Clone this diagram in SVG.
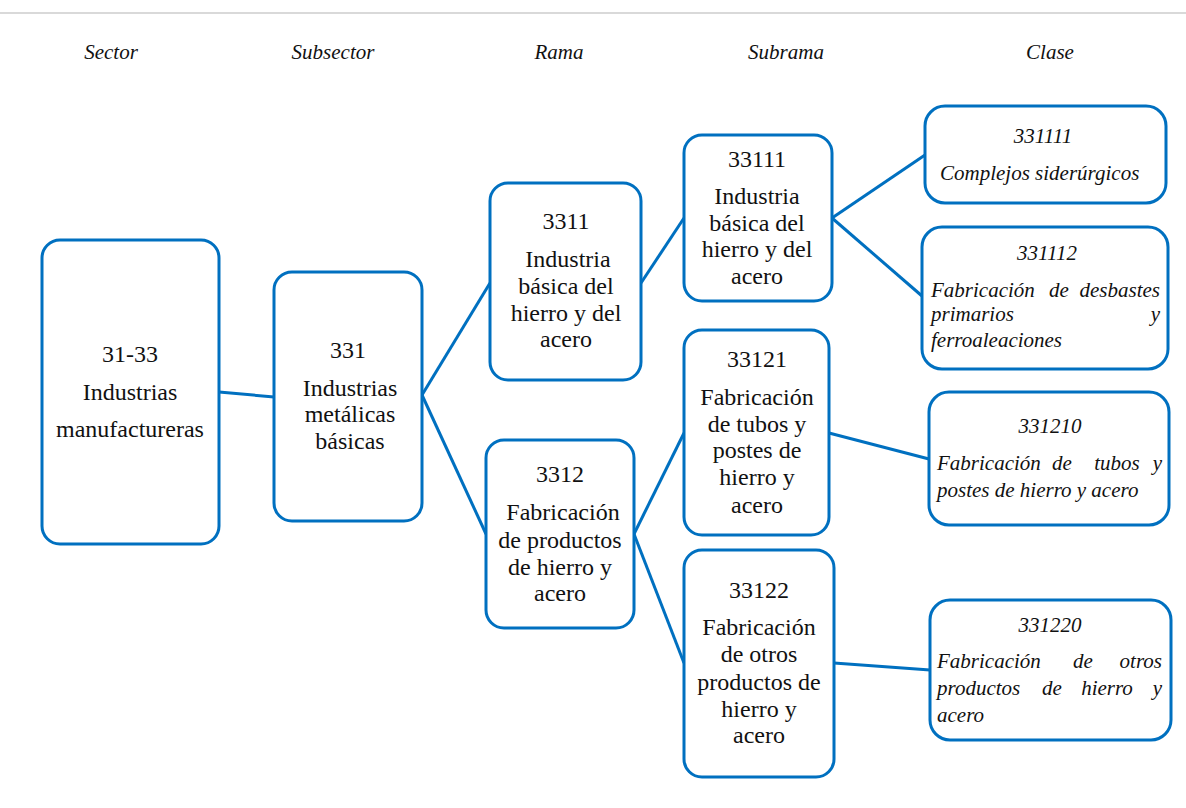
<svg xmlns="http://www.w3.org/2000/svg" width="1186" height="808" viewBox="0 0 1186 808">
<style>
.box{fill:#fff;stroke:#0070c0;stroke-width:3}
.ln{stroke:#0070c0;stroke-width:3;fill:none}
text{font-family:'Liberation Serif','DejaVu Serif',serif;fill:#111}
.t{font-size:24px;text-anchor:middle}
.h{font-size:21px;font-style:italic;text-anchor:middle}
.i{font-size:21px;font-style:italic}
.m{text-anchor:middle}
.e{text-anchor:end}
</style>
<rect width="1186" height="808" fill="#fff"/>
<line x1="0" y1="13" x2="1186" y2="13" stroke="#d9d9d9" stroke-width="2"/>
<g id="headers">
<text class="h" x="111" y="59">Sector</text>
<text class="h" x="333" y="59">Subsector</text>
<text class="h" x="559" y="59">Rama</text>
<text class="h" x="786" y="59">Subrama</text>
<text class="h" x="1050" y="59">Clase</text>
</g>
<g id="connectors">
<line class="ln" x1="219" y1="392" x2="274" y2="397"/>
<line class="ln" x1="422" y1="395" x2="490" y2="283"/>
<line class="ln" x1="422" y1="395" x2="486" y2="534"/>
<line class="ln" x1="641" y1="283" x2="684" y2="218"/>
<line class="ln" x1="634" y1="534" x2="684" y2="433"/>
<line class="ln" x1="634" y1="534" x2="684" y2="663"/>
<line class="ln" x1="832" y1="218" x2="925" y2="155"/>
<line class="ln" x1="832" y1="218" x2="922" y2="296"/>
<line class="ln" x1="829" y1="433" x2="929" y2="459"/>
<line class="ln" x1="834" y1="663" x2="930" y2="670"/>
</g>
<g id="n3133">
<rect class="box" x="42" y="240" width="177" height="304" rx="18"/>
<text class="t" x="130" y="362">31-33</text>
<text class="t" x="130" y="400">Industrias</text>
<text class="t" x="130" y="437">manufactureras</text>
</g>
<g id="n331">
<rect class="box" x="274" y="272" width="148" height="249" rx="18"/>
<text class="t" x="348" y="358">331</text>
<text class="t" x="350" y="396">Industrias</text>
<text class="t" x="350" y="422">metálicas</text>
<text class="t" x="350" y="449">básicas</text>
</g>
<g id="n3311">
<rect class="box" x="490" y="183" width="151" height="197" rx="18"/>
<text class="t" x="566" y="229">3311</text>
<text class="t" x="568" y="267">Industria</text>
<text class="t" x="566" y="294">básica del</text>
<text class="t" x="566" y="321">hierro y del</text>
<text class="t" x="566" y="347">acero</text>
</g>
<g id="n3312">
<rect class="box" x="486" y="440" width="148" height="188" rx="18"/>
<text class="t" x="560" y="482">3312</text>
<text class="t" x="563" y="520">Fabricación</text>
<text class="t" x="560" y="548">de productos</text>
<text class="t" x="560" y="575">de hierro y</text>
<text class="t" x="560" y="601">acero</text>
</g>
<g id="n33111">
<rect class="box" x="684" y="135" width="148" height="166" rx="18"/>
<text class="t" x="757" y="167">33111</text>
<text class="t" x="757" y="204">Industria</text>
<text class="t" x="757" y="231">básica del</text>
<text class="t" x="757" y="257">hierro y del</text>
<text class="t" x="757" y="284">acero</text>
</g>
<g id="n33121">
<rect class="box" x="684" y="330" width="145" height="205" rx="18"/>
<text class="t" x="757" y="367">33121</text>
<text class="t" x="757" y="405">Fabricación</text>
<text class="t" x="757" y="432">de tubos y</text>
<text class="t" x="757" y="458">postes de</text>
<text class="t" x="757" y="485">hierro y</text>
<text class="t" x="757" y="513">acero</text>
</g>
<g id="n33122">
<rect class="box" x="684" y="550" width="150" height="227" rx="18"/>
<text class="t" x="759" y="598">33122</text>
<text class="t" x="759" y="635">Fabricación</text>
<text class="t" x="759" y="662">de otros</text>
<text class="t" x="759" y="690">productos de</text>
<text class="t" x="759" y="717">hierro y</text>
<text class="t" x="759" y="743">acero</text>
</g>
<g id="n331111">
<rect class="box" x="925" y="106" width="241" height="97" rx="20"/>
<text class="i m" x="1043" y="143">331111</text>
<text class="i" x="940" y="180">Complejos siderúrgicos</text>
</g>
<g id="n331112">
<rect class="box" x="922" y="227" width="246" height="142" rx="20"/>
<text class="i m" x="1047" y="260">331112</text>
<text class="i" y="297"><tspan x="931">Fabricación</tspan><tspan x="1059" class="m">de</tspan><tspan x="1160" class="e">desbastes</tspan></text>
<text class="i" y="321"><tspan x="931">primarios</tspan><tspan x="1160" class="e">y</tspan></text>
<text class="i" x="931" y="347">ferroaleaciones</text>
</g>
<g id="n331210">
<rect class="box" x="929" y="392" width="240" height="133" rx="20"/>
<text class="i m" x="1050" y="433">331210</text>
<text class="i" y="470"><tspan x="937">Fabricación</tspan><tspan x="1062" class="m">de</tspan><tspan x="1117" class="m">tubos</tspan><tspan x="1162" class="e">y</tspan></text>
<text class="i" x="937" y="497">postes de hierro y acero</text>
</g>
<g id="n331220">
<rect class="box" x="930" y="600" width="241" height="140" rx="20"/>
<text class="i m" x="1050" y="632">331220</text>
<text class="i" y="668"><tspan x="937">Fabricación</tspan><tspan x="1083" class="m">de</tspan><tspan x="1162" class="e">otros</tspan></text>
<text class="i" y="695"><tspan x="937">productos</tspan><tspan x="1052" class="m">de</tspan><tspan x="1107" class="m">hierro</tspan><tspan x="1162" class="e">y</tspan></text>
<text class="i" x="937" y="722">acero</text>
</g>
</svg>
